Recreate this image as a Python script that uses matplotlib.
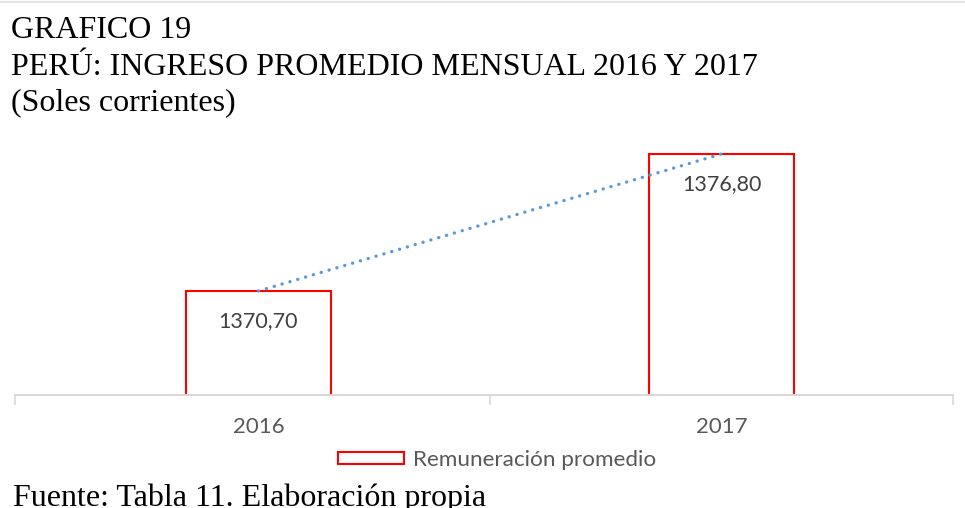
import matplotlib.pyplot as plt
from matplotlib.lines import Line2D

# data
years = ['2016', '2017']
ingreso = [1370.70, 1376.80]
etiquetas = ['1370,70', '1376,80']

fig = plt.figure(figsize=(9.65, 5.08), dpi=100)
ax = fig.add_axes([15 / 965, 1 - 395 / 508, 938 / 965, 255 / 508])

x = list(range(len(years)))
ax.bar(x, ingreso, width=0.313, color='white', edgecolor='#FF0000', linewidth=1.5,
       label='Remuneración promedio', zorder=2)
# dotted trend line between the bar tops
ax.plot(x, ingreso, linestyle=(0, (0.05, 2.4)), color='#5B9BD5', linewidth=2.4,
        dash_capstyle='round', zorder=3)

for xi, v, t in zip(x, ingreso, etiquetas):
    ax.annotate(t, (xi, v), xytext=(0, -21.6), textcoords='offset points',
                ha='center', va='center', fontsize=15.5, family='Lato', color='#404040')

ax.set_xlim(-0.526, 1.5)
ax.set_ylim(1366.07, 1377.42)
ax.set_xticks(x)
ax.set_xticklabels(years, fontsize=16, family='Lato', color='#595959')
ax.set_xticks([-0.526, 0.5, 1.5], minor=True)
ax.tick_params(axis='x', which='major', length=0, pad=16)
ax.tick_params(axis='x', which='minor', length=7, color='#D9D9D9', width=1.2)
ax.set_yticks([])
for s in ['left', 'right', 'top']:
    ax.spines[s].set_visible(False)
ax.spines['bottom'].set_color('#D9D9D9')
ax.spines['bottom'].set_linewidth(1.5)
ax.spines['bottom'].set_zorder(4)

leg = ax.legend(loc='center', bbox_to_anchor=(497 / 965, 1 - 460 / 508), bbox_transform=fig.transFigure,
                frameon=False, prop={'family': 'Lato', 'size': 16.2}, handlelength=2.9, handleheight=0.45,
                handletextpad=0.4, borderpad=0)
for t in leg.get_texts():
    t.set_color('#595959')

# titles
fig.text(11 / 965, 1 - 38 / 508, 'GRAFICO 19', fontsize=23, family='Liberation Serif', va='baseline')
fig.text(11 / 965, 1 - 75 / 508, 'PERÚ: INGRESO PROMEDIO MENSUAL 2016 Y 2017', fontsize=23,
         family='Liberation Serif', va='baseline')
fig.text(11 / 965, 1 - 110 / 508, '(Soles corrientes)', fontsize=23, family='Liberation Serif', va='baseline')
fig.text(13 / 965, 1 - 506 / 508, 'Fuente: Tabla 11. Elaboración propia', fontsize=23,
         family='Liberation Serif', va='baseline')

fig.add_artist(Line2D([0, 1], [1 - 1.5 / 508, 1 - 1.5 / 508], color='#E3E3E3', linewidth=1.5))

fig.savefig('out.png', dpi=100)
